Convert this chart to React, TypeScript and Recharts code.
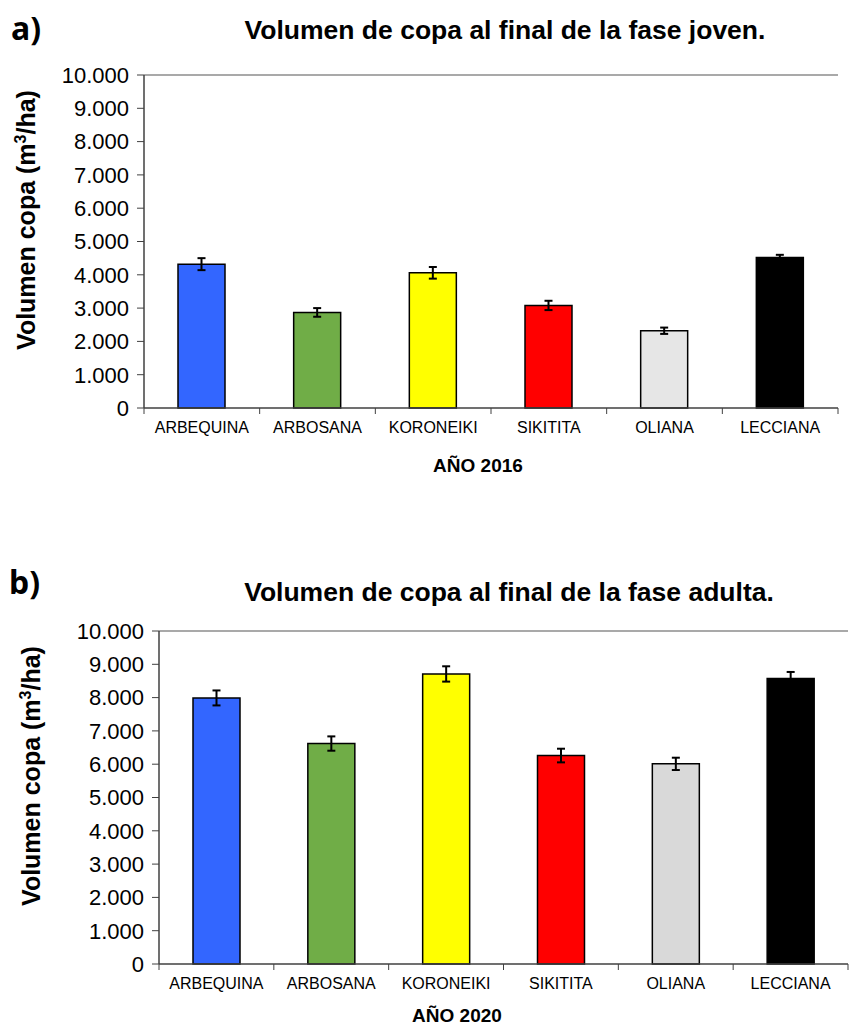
import React from 'react';
import { BarChart, Bar, Cell, XAxis, YAxis, ErrorBar, ReferenceLine } from 'recharts';

const categories = ['ARBEQUINA', 'ARBOSANA', 'KORONEIKI', 'SIKITITA', 'OLIANA', 'LECCIANA'];

const vol2016 = [4320, 2870, 4060, 3080, 2320, 4520];
const err2016 = [180, 130, 175, 140, 95, 80];

const vol2020 = [7990, 6620, 8710, 6260, 6010, 8570];
const err2020 = [225, 215, 230, 205, 185, 200];

const colors2016 = ['#3366FF', '#70AD47', '#FFFF00', '#FF0000', '#E6E6E6', '#000000'];
const colors2020 = ['#3366FF', '#70AD47', '#FFFF00', '#FF0000', '#D9D9D9', '#000000'];

const yTicks = [0, 1000, 2000, 3000, 4000, 5000, 6000, 7000, 8000, 9000, 10000];

const FONT = '"Liberation Sans", Arial, sans-serif';
const AXIS = '#404040';

const fmt = (v: number) => String(v).replace(/\B(?=(\d{3})+(?!\d))/g, '.');

const build = (vals: number[], errs: number[]) =>
  categories.map((name, i) => ({ name, value: vals[i], err: errs[i] }));

const data2016 = build(vol2016, err2016);
const data2020 = build(vol2020, err2020);

// category label plus Excel-style tick marks on the band edges
const CatTick = (props: any) => {
  const { x, y, payload, index, visibleTicksCount } = props;
  const half = payload?.offset ?? 0;
  const last = index === (visibleTicksCount ?? categories.length) - 1;
  return (
    <g>
      <line x1={x - half} x2={x - half} y1={y} y2={y + 6} stroke={AXIS} />
      {last && <line x1={x + half} x2={x + half} y1={y} y2={y + 6} stroke={AXIS} />}
      <text x={x} y={y + 14} dy="0.71em" textAnchor="middle" fontSize={16} fill="#000" fontFamily={FONT}>
        {payload.value}
      </text>
    </g>
  );
};

function Panel({
  data,
  colors,
  width,
  height,
  margin,
  yWidth,
  rightBorder,
}: {
  data: any[];
  colors: string[];
  width: number;
  height: number;
  margin: any;
  yWidth: number;
  rightBorder: boolean;
}) {
  return (
    <BarChart width={width} height={height} data={data} margin={margin} barSize={47}>
      <XAxis
        dataKey="name"
        height={30}
        axisLine={{ stroke: AXIS, strokeWidth: 1.5 }}
        tickLine={false}
        tickSize={0}
        tickMargin={0}
        tick={<CatTick />}
        interval={0}
      />
      <YAxis
        width={yWidth}
        domain={[0, 10000]}
        ticks={yTicks}
        tickFormatter={fmt}
        tickSize={7}
        tickMargin={8}
        axisLine={{ stroke: AXIS, strokeWidth: 1.5 }}
        tickLine={{ stroke: AXIS }}
        tick={{ fontSize: 22, fill: '#000', fontFamily: FONT }}
      />
      {rightBorder && (
        <YAxis
          yAxisId="border"
          orientation="right"
          width={0}
          domain={[0, 10000]}
          tick={false}
          tickLine={false}
          axisLine={{ stroke: '#8c8c8c' }}
        />
      )}
      <ReferenceLine y={10000} stroke="#8c8c8c" strokeWidth={1.5} />
      <Bar dataKey="value" stroke="#000" strokeWidth={1.5} isAnimationActive={false}>
        {data.map((d, i) => (
          <Cell key={d.name} fill={colors[i]} />
        ))}
        <ErrorBar dataKey="err" width={4} stroke="#000" strokeWidth={2} />
      </Bar>
    </BarChart>
  );
}

const abs = (s: React.CSSProperties): React.CSSProperties => ({ position: 'absolute', ...s });

const yLabel = (cx: number, cy: number): React.CSSProperties =>
  abs({
    left: cx - 150,
    top: cy - 15,
    width: 300,
    height: 30,
    lineHeight: '30px',
    textAlign: 'center',
    transform: 'rotate(-90deg)',
    fontSize: 25,
    fontWeight: 700,
  });

export default function App() {
  return (
    <div style={{ position: 'absolute', left: 0, top: 0, width: 852, height: 1028, background: '#fff', fontFamily: FONT }}>
      {/* panel a */}
      <div style={abs({ left: 11, top: 9, fontSize: 32, fontWeight: 700, fontFamily: '"Noto Sans", sans-serif', lineHeight: '38px' })}>a)</div>
      <div style={abs({ left: 0, width: 1010, top: 14, textAlign: 'center', fontSize: 26.5, fontWeight: 700, lineHeight: '32px' })}>
        Volumen de copa al final de la fase joven.
      </div>
      <div style={abs({ left: 0, top: 0 })}>
        <Panel
          data={data2016}
          colors={colors2016}
          width={852}
          height={490}
          margin={{ top: 75, right: 14, left: 0, bottom: 52 }}
          yWidth={144}
          rightBorder={true}
        />
      </div>
      <div style={yLabel(21, 220)}>
        Volumen copa (m<sup style={{ fontSize: 16 }}>3</sup>/ha)
      </div>
      <div style={abs({ left: 378, width: 200, top: 453, textAlign: 'center', fontSize: 19, fontWeight: 700, lineHeight: '26px' })}>AÑO 2016</div>

      {/* panel b */}
      <div style={abs({ left: 9, top: 563, fontSize: 32, fontWeight: 700, fontFamily: '"Noto Sans", sans-serif', lineHeight: '38px' })}>b)</div>
      <div style={abs({ left: 0, width: 1018, top: 576, textAlign: 'center', fontSize: 26.5, fontWeight: 700, lineHeight: '32px' })}>
        Volumen de copa al final de la fase adulta.
      </div>
      <div style={abs({ left: 0, top: 540 })}>
        <Panel
          data={data2020}
          colors={colors2020}
          width={852}
          height={488}
          margin={{ top: 91, right: 4, left: 0, bottom: 34 }}
          yWidth={159}
          rightBorder={false}
        />
      </div>
      <div style={yLabel(26, 776)}>
        Volumen copa (m<sup style={{ fontSize: 16 }}>3</sup>/ha)
      </div>
      <div style={abs({ left: 357, width: 200, top: 1003, textAlign: 'center', fontSize: 19, fontWeight: 700, lineHeight: '26px' })}>AÑO 2020</div>
    </div>
  );
}
